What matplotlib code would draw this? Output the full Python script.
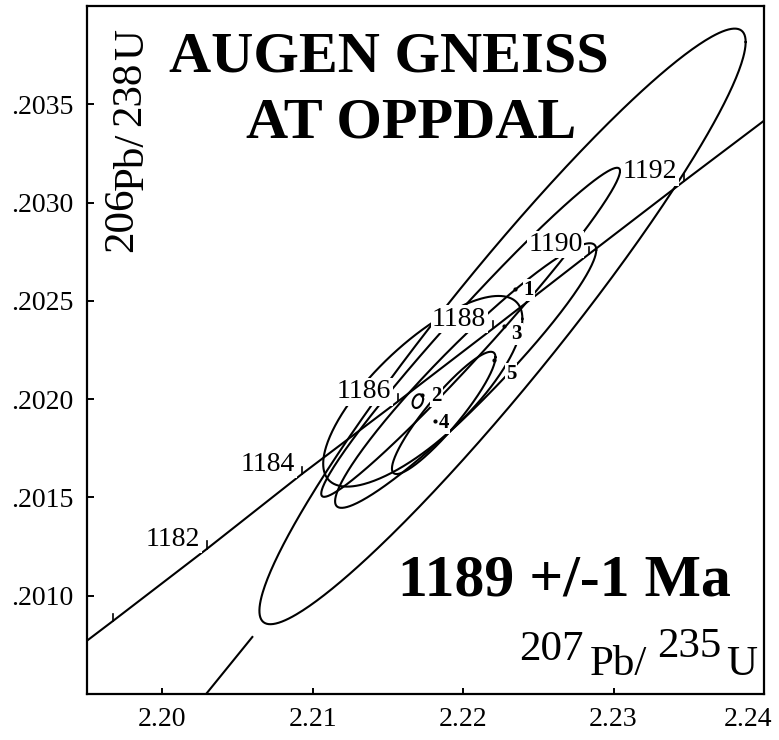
import numpy as np
import matplotlib
matplotlib.use("Agg")
import matplotlib.pyplot as plt
from matplotlib.ticker import FuncFormatter
from matplotlib.transforms import ScaledTranslation

SERIF = ["Liberation Serif", "DejaVu Serif"]
plt.rcParams["font.family"] = SERIF

# concordia curve, ratios (age in Ma)
conc_age = [1179, 1180, 1182, 1184, 1186, 1188, 1190, 1192, 1194]
conc_x = [2.1936, 2.1967, 2.2030, 2.2093, 2.2157, 2.2220, 2.2284, 2.2347, 2.2411]
conc_y = [0.20069, 0.20087, 0.20124, 0.20162, 0.20199, 0.20236, 0.20274, 0.20311, 0.20348]
tick_ages = [1180, 1182, 1184, 1186, 1188, 1190, 1192]
label_ages = [1182, 1184, 1186, 1188, 1190, 1192]

# error ellipses: centre, half extent in x and y, correlation
ell_x = [2.22262, 2.22050, 2.22017, 2.21871, 2.21732, 2.21699]
ell_y = [0.20237, 0.20234, 0.20212, 0.20193, 0.20204, 0.20199]
ell_sx = [0.01616, 0.00993, 0.00868, 0.00344, 0.00662, 0.00035]
ell_sy = [0.001515, 0.000837, 0.000673, 0.000311, 0.000485, 0.000035]
ell_rho = [0.955, 0.98, 0.95, 0.91, 0.76, 0.3]

# analysed fractions
frac_names = ["1", "2", "3", "4", "5"]
frac_x = [2.22348, 2.21725, 2.22275, 2.21811, 2.22202]
frac_y = [0.20256, 0.20202, 0.20237, 0.20189, 0.20220]
frac_offsets = [(6, -4), (7, -4), (5, -9), (3, -5), (9, -14)]  # points

# short line piece at lower left
seg_x = [2.20281, 2.20599]
seg_y = [0.20049, 0.20079]

xticks = [2.20, 2.21, 2.22, 2.23, 2.24]
yticks = [0.2010, 0.2015, 0.2020, 0.2025, 0.2030, 0.2035]

W, H = 779, 740
fig = plt.figure(figsize=(W / 100, H / 100), dpi=100)
ax = fig.add_axes([87 / W, 46 / H, 677 / W, 688 / H])
ax.set_xlim(2.195, 2.24)
ax.set_ylim(0.2005, 0.2040)

lw = 1.5
ax.plot(conc_x, conc_y, color="black", lw=lw)
for a in tick_ages:
    i = conc_age.index(a)
    ax.plot([conc_x[i], conc_x[i]], [conc_y[i], conc_y[i] + 0.000036], color="black", lw=1.2)
for a in label_ages:
    i = conc_age.index(a)
    ax.annotate(str(a), (conc_x[i], conc_y[i]), xytext=(-5, 2), textcoords="offset points",
                ha="right", va="baseline", fontsize=20, zorder=5,
                bbox=dict(boxstyle="square,pad=0.05", fc="white", ec="none"))

t = np.linspace(0, 2 * np.pi, 400)
for cx, cy, sx, sy, r in zip(ell_x, ell_y, ell_sx, ell_sy, ell_rho):
    ex = cx + sx * np.cos(t)
    ey = cy + sy * (r * np.cos(t) + np.sqrt(1 - r ** 2) * np.sin(t))
    ax.plot(ex, ey, color="black", lw=lw)

ax.plot(seg_x, seg_y, color="black", lw=lw)

ax.scatter(frac_x, frac_y, s=4, color="black", zorder=6)
for name, x, y, off in zip(frac_names, frac_x, frac_y, frac_offsets):
    ax.annotate(name, (x, y), xytext=off, textcoords="offset points", ha="left",
                va="baseline", fontsize=15, fontweight="bold", zorder=6,
                bbox=dict(boxstyle="square,pad=0.05", fc="white", ec="none"))

ax.set_xticks(xticks)
ax.set_yticks(yticks)
ax.xaxis.set_major_formatter(FuncFormatter(lambda v, p: f"{v:.2f}"))
ax.yaxis.set_major_formatter(FuncFormatter(lambda v, p: f"{v:.4f}"[1:]))
ax.tick_params(axis="both", direction="in", labelsize=20, width=1.4)
ax.tick_params(axis="x", length=4, pad=9)
ax.tick_params(axis="y", length=5, pad=10)
for s in ax.spines.values():
    s.set_linewidth(1.6)

fig.canvas.draw()
last = ax.get_xticklabels()[-1]
last.set_transform(last.get_transform() + ScaledTranslation(-0.16, 0, fig.dpi_scale_trans))


def fpos(x, y):
    return x / W, 1 - y / H


fig.text(*fpos(389, 72), "AUGEN GNEISS", ha="center", va="baseline", fontsize=42, fontweight="bold")
fig.text(*fpos(411, 137), "AT OPPDAL", ha="center", va="baseline", fontsize=42, fontweight="bold")
fig.text(*fpos(564, 595), "1189 +/-1 Ma", ha="center", va="baseline", fontsize=43, fontweight="bold")

# x axis title inside the frame
for s, x, y in [("207", 519, 660), ("Pb/", 590, 675), ("235", 657, 657), ("U", 726, 675)]:
    fig.text(*fpos(x, y), s, ha="left", va="baseline", fontsize=31)

# y axis title, rotated
for s, x, y in [("206", 132, 252), ("Pb/", 143, 190), ("238", 140, 126), ("U", 143, 60)]:
    fig.text(*fpos(x, y), s, ha="left", va="baseline", fontsize=31, rotation=90,
             rotation_mode="anchor")

fig.savefig("out.png", dpi=100)
